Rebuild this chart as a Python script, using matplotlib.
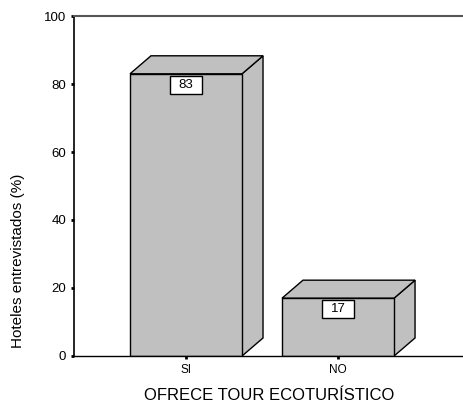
import matplotlib
matplotlib.use("Agg")
import matplotlib.pyplot as plt
from matplotlib.patches import Polygon, Rectangle

categories = ["SI", "NO"]
values = [83, 17]
y_ticks = [0, 20, 40, 60, 80, 100]

plt.rcParams["font.family"] = ["Liberation Sans", "DejaVu Sans"]

fig = plt.figure(figsize=(4.63, 4.15), dpi=100)
ax = fig.add_axes([0.1598, 0.1422, 0.8402, 0.8192])

width = 0.737
dx, dy = 0.138, 5.3
face = "#c0c0c0"

for i, v in enumerate(values):
    xl, xr = i - width / 2, i + width / 2
    front = [(xl, 0), (xr, 0), (xr, v), (xl, v)]
    side = [(xr, 0), (xr + dx, dy), (xr + dx, v + dy), (xr, v)]
    top = [(xl, v), (xl + dx, v + dy), (xr + dx, v + dy), (xr, v)]
    for pts in (side, top, front):
        ax.add_patch(Polygon(pts, closed=True, facecolor=face,
                             edgecolor="black", linewidth=1.0, zorder=2))
    # value label box
    bw, bh = 0.21, 5.3
    cy = v - 3.2
    ax.add_patch(Rectangle((i - bw / 2, cy - bh / 2), bw, bh,
                           facecolor="white", edgecolor="black",
                           linewidth=1.0, zorder=3))
    ax.text(i, cy, str(v), ha="center", va="center", fontsize=9.5, zorder=4)

ax.set_xlim(-0.737, 1.822)
ax.set_ylim(0, 100)
ax.set_xticks(range(len(categories)))
ax.set_xticklabels(categories, fontsize=8.5)
ax.set_yticks(y_ticks)
ax.set_yticklabels([str(t) for t in y_ticks], fontsize=9.5)
ax.tick_params(axis="both", length=2.5, width=2, direction="out", pad=3)

ax.spines["right"].set_visible(False)
ax.spines["top"].set_color("#555555")
ax.spines["top"].set_linewidth(1.5)
ax.spines["left"].set_linewidth(1.2)
ax.spines["bottom"].set_linewidth(1.0)

fig.text(0.039, 0.371, "Hoteles entrevistados (%)", rotation=90,
         ha="center", va="center", fontsize=11)
fig.text(0.582, 0.046, "OFRECE TOUR ECOTURÍSTICO", ha="center",
         va="center", fontsize=12)

fig.savefig("out.png", dpi=100)
